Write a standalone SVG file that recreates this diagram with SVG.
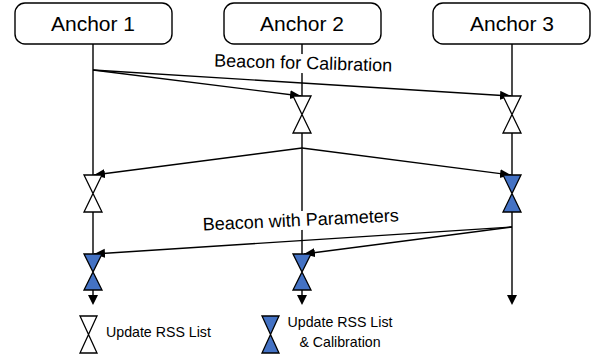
<svg xmlns="http://www.w3.org/2000/svg" width="602" height="360" viewBox="0 0 602 360">
<style>
.box{fill:#fff;stroke:#000;stroke-width:1.4}
.t{font-family:"Liberation Sans",Arial,sans-serif;fill:#000}
.life{stroke:#000;stroke-width:1.4;fill:none}
.msg{stroke:#000;stroke-width:1.4;fill:none;marker-end:url(#ah)}
.hw{fill:#fff;stroke:#000;stroke-width:1.3;stroke-linejoin:miter}
.hb{fill:#4472C4;stroke:#000;stroke-width:1.3;stroke-linejoin:miter}
.bg{fill:#fff}
</style>
<defs>
<marker id="ah" markerUnits="userSpaceOnUse" markerWidth="12" markerHeight="10" refX="11" refY="4.5" orient="auto">
<path d="M0,0 L11,4.5 L0,9 z" fill="#000"/>
</marker>
</defs>
<rect width="602" height="360" fill="#fff"/>

<g id="anchor1"><rect class="box" x="15" y="3" width="157" height="41" rx="10"/><text class="t" x="93" y="31" font-size="21" text-anchor="middle">Anchor 1</text></g>
<g id="anchor2"><rect class="box" x="224" y="3" width="157" height="41" rx="10"/><text class="t" x="302" y="31" font-size="21" text-anchor="middle">Anchor 2</text></g>
<g id="anchor3"><rect class="box" x="433" y="3" width="157" height="41" rx="10"/><text class="t" x="512" y="31" font-size="21" text-anchor="middle">Anchor 3</text></g>

<g id="lifelines">
<path class="life" d="M93,44 V175 M93,212 V254 M93,290 V296"/>
<path class="life" d="M302,44 V96 M302,133 V254 M302,290 V296"/>
<path class="life" d="M512,44 V96 M512,133 V175 M512,212 V296"/>
<path fill="#000" d="M88,295 L98,295 L93,305 z M297,295 L307,295 L302,305 z M507,295 L517,295 L512,305 z"/>
</g>

<g id="connectors">
<line class="msg" x1="93" y1="70" x2="301" y2="96"/>
<line class="msg" x1="93" y1="70" x2="511" y2="96"/>
<line class="msg" x1="302" y1="148" x2="94" y2="175"/>
<line class="msg" x1="302" y1="148" x2="511" y2="175"/>
<line class="msg" x1="512" y1="227" x2="94" y2="254"/>
<line class="msg" x1="512" y1="227" x2="304" y2="254"/>
</g>

<g id="label-calibration" transform="rotate(1.6 303 69)">
<rect class="bg" x="213" y="54" width="181" height="19"/>
<text class="t" x="303" y="69" font-size="18" text-anchor="middle">Beacon for Calibration</text>
</g>
<g id="label-parameters" transform="rotate(-2.7 301 226)">
<rect class="bg" x="201" y="211" width="200" height="19"/>
<text class="t" x="301" y="226" font-size="18" text-anchor="middle">Beacon with Parameters</text>
</g>

<g id="h-a2-1"><path class="hw" d="M293,96 L311,96 L302,114.5 z M302,114.5 L311,133 L293,133 z"/></g>
<g id="h-a3-1"><path class="hw" d="M503,96 L521,96 L512,114.5 z M512,114.5 L521,133 L503,133 z"/></g>
<g id="h-a1-2"><path class="hw" d="M84,175 L102,175 L93,193.5 z M93,193.5 L102,212 L84,212 z"/></g>
<g id="h-a3-2"><path class="hb" d="M503,175 L521,175 L512,193.5 z M512,193.5 L521,212 L503,212 z"/></g>
<g id="h-a1-3"><path class="hb" d="M84,254 L102,254 L93,272 z M93,272 L102,290 L84,290 z"/></g>
<g id="h-a2-3"><path class="hb" d="M293,254 L311,254 L302,272 z M302,272 L311,290 L293,290 z"/></g>

<g id="legend-white"><path class="hw" d="M80,316 L97,316 L88.5,334.5 z M88.5,334.5 L97,353 L80,353 z"/><text class="t" x="106" y="337" font-size="14.2">Update RSS List</text></g>
<g id="legend-blue"><path class="hb" d="M262,316 L279,316 L270.5,334.5 z M270.5,334.5 L279,353 L262,353 z"/><text class="t" x="340" y="327" font-size="14.2" text-anchor="middle">Update RSS List</text><text class="t" x="340" y="347" font-size="14.2" text-anchor="middle">&amp; Calibration</text></g>
</svg>
